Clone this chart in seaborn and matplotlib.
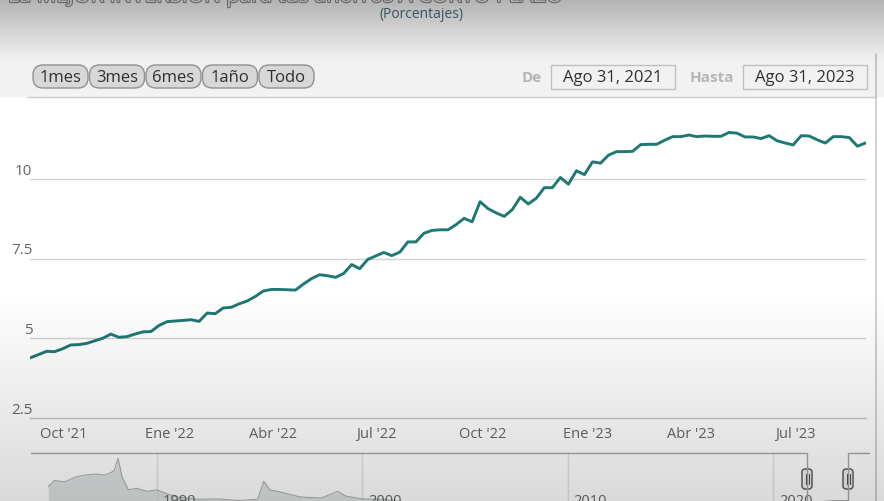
import numpy as np
import pandas as pd
import seaborn as sns
import matplotlib.pyplot as plt
import matplotlib.patheffects as pe
from matplotlib.patches import FancyBboxPatch

#%% Data
# weekly rate (%), one value per Thursday from 2 Sep 2021 to 31 Aug 2023
start_date = "2021-09-02"
rates = [4.39, 4.49, 4.59, 4.58, 4.67, 4.79, 4.80, 4.84, 4.92, 5.00,
         5.13, 5.03, 5.05, 5.13, 5.20, 5.21, 5.40, 5.52, 5.54, 5.56,
         5.58, 5.53, 5.79, 5.77, 5.95, 5.97, 6.08, 6.17, 6.31, 6.48,
         6.53, 6.53, 6.52, 6.51, 6.70, 6.87, 6.99, 6.96, 6.91, 7.03,
         7.31, 7.18, 7.47, 7.58, 7.69, 7.59, 7.70, 8.02, 8.02, 8.29,
         8.38, 8.40, 8.40, 8.56, 8.76, 8.65, 9.28, 9.06, 8.93, 8.82,
         9.03, 9.42, 9.21, 9.39, 9.72, 9.72, 10.04, 9.83, 10.25, 10.13,
         10.53, 10.49, 10.74, 10.85, 10.85, 10.86, 11.07, 11.08, 11.08, 11.21,
         11.32, 11.32, 11.37, 11.32, 11.34, 11.33, 11.33, 11.45, 11.43, 11.31,
         11.31, 11.26, 11.35, 11.19, 11.12, 11.06, 11.35, 11.34, 11.22, 11.12,
         11.32, 11.32, 11.29, 11.02, 11.12]

y_ticks = [2.5, 5, 7.5, 10]
y_labels = ["2.5", "5", "7.5", "10"]
x_ticks = ["2021-10-01", "2022-01-01", "2022-04-01", "2022-07-01",
           "2022-10-01", "2023-01-01", "2023-04-01", "2023-07-01"]
x_labels = ["Oct '21", "Ene '22", "Abr '22", "Jul '22",
            "Oct '22", "Ene '23", "Abr '23", "Jul '23"]

# long history shown in the navigator (year, rate %)
nav_year = [1984.7, 1985.0, 1985.5, 1986.0, 1986.5, 1987.0, 1987.5, 1987.9, 1988.1,
            1988.3, 1988.6, 1989.0, 1989.5, 1990.0, 1990.5, 1991.0, 1992.0, 1993.0,
            1994.0, 1994.9, 1995.2, 1995.5, 1996.0, 1996.5, 1997.0, 1998.0, 1998.8,
            1999.2, 2000.0, 2001.0, 2002.0, 2004.0, 2006.0, 2008.0, 2009.5, 2012.0,
            2015.0, 2017.0, 2019.0, 2020.5, 2021.0, 2022.0, 2023.0, 2023.67]
nav_rate = [55, 75, 70, 85, 92, 95, 92, 105, 145,
            85, 45, 50, 40, 45, 32, 22, 15, 16,
            11, 15, 72, 45, 38, 30, 22, 19, 40,
            25, 16, 15, 7, 6, 7, 8, 4.5, 4.2,
            3, 7, 8, 4.5, 4.2, 6, 11, 11]
nav_years_lab = [1990, 2000, 2010, 2020]

buttons = ["1mes", "3mes", "6mes", "1año", "Todo"]
title = "La MEJOR INVERSIÓN para tus ahorros A CORTO PLAZO"
subtitle = "(Porcentajes)"
date_from = "Ago 31, 2021"
date_to = "Ago 31, 2023"

df = pd.DataFrame({"fecha": pd.date_range(start_date, periods=len(rates), freq="7D"),
                   "tasa": rates})

#%% Style
sns.set_style("white")
plt.rcParams["font.family"] = ["Open Sans", "DejaVu Sans"]

W, H = 884, 502
fig = plt.figure(figsize=(W / 100, H / 100), dpi=100)
fig.patch.set_facecolor("white")

#%% Main chart
ax = fig.add_axes([30 / W, 1 - 419 / H, 836 / W, 319 / H], zorder=1)
ax.patch.set_alpha(0)
sns.lineplot(data=df, x="fecha", y="tasa", ax=ax, color="#1f7873", linewidth=2.1)
ax.set_xlim(pd.Timestamp("2021-09-01 12:00"), pd.Timestamp("2023-08-31 12:00"))
ax.set_ylim(2.5, 12.5)
ax.set_xlabel("")
ax.set_ylabel("")
for s in ["top", "right", "left"]:
    ax.spines[s].set_visible(False)
ax.spines["bottom"].set_color("#c4c4c4")
ax.spines["bottom"].set_linewidth(1)
ax.set_yticks(y_ticks)
ax.set_yticklabels([])
ax.tick_params(axis="y", length=0)
for v in y_ticks[1:]:
    ax.axhline(v, color="#d2d2d2", lw=1, zorder=0)
for v, lab in zip(y_ticks, y_labels):
    ax.annotate(lab, xy=(0, v), xycoords=("axes fraction", "data"),
                xytext=(2.5, 8.5), textcoords="offset pixels",
                ha="right", va="center", fontsize=11, color="#666666")
ax.set_xticks(pd.to_datetime(x_ticks))
ax.set_xticklabels(x_labels, fontsize=10.5, color="#666666")
ax.tick_params(axis="x", length=6, width=1, color="#cccccc", pad=0)

#%% Navigator
nav_left, nav_right = 1983.86, 2024.68
ax_nav = fig.add_axes([31 / W, 1 - 505 / H, 838 / W, 52 / H], zorder=2)
ax_nav.patch.set_alpha(0)
ax_nav.set_xlim(nav_left, nav_right)
ax_nav.set_ylim(0, 165)
ax_nav.axis("off")
for yr in nav_years_lab:
    ax_nav.axvline(yr, color="#e4e4e4", lw=1, zorder=0)
    ax_nav.annotate(str(yr), xy=(yr, 1), xycoords=("data", "axes fraction"),
                    xytext=(6, -41), textcoords="offset pixels",
                    ha="left", va="top", fontsize=10.5, color="#666666")
ax_nav.fill_between(nav_year, nav_rate, color="#d3d9d8", alpha=0.75, lw=0)
ax_nav.plot(nav_year, nav_rate, color="#a3adac", lw=0.7)

#%% Interface elements in pixel coordinates
ui = fig.add_axes([0, 0, 1, 1], zorder=3)
ui.set_xlim(0, W)
ui.set_ylim(H, 0)
ui.axis("off")
ui.patch.set_alpha(0)

ui.text(8, 3, title, fontsize=15.5, color="#f8f8f8", va="baseline", ha="left",
        path_effects=[pe.withStroke(linewidth=1.5, foreground="#8a8a8a")])
ui.text(421, 14.5, subtitle, fontsize=10, color="#4e6e80", ha="center", va="center")

for i, lab in enumerate(buttons):
    x0 = 33 + i * 56.5
    ui.add_patch(FancyBboxPatch((x0, 66), 55, 23,
                                boxstyle="round,pad=0,rounding_size=10",
                                fc="#e4e4e4", ec="#9a9a9a", lw=1))
    ui.text(x0 + 27.5, 77.5, lab, ha="center", va="center",
            fontsize=12, color="#333333")

ui.text(532, 77.5, "De", ha="center", va="center", fontsize=11,
        color="#c0c0c0", fontweight="bold")
ui.text(712, 77.5, "Hasta", ha="center", va="center", fontsize=11,
        color="#c0c0c0", fontweight="bold")
for x0, lab in [(551, date_from), (743, date_to)]:
    ui.add_patch(plt.Rectangle((x0, 65.5), 124, 24, fc="white", ec="#cccccc", lw=1))
    ui.text(x0 + 62, 77.5, lab, ha="center", va="center",
            fontsize=12, color="#333333")

# panel borders
ui.plot([27, 876], [98, 98], color="#cfcfcf", lw=1)
ui.plot([876, 876], [55, H], color="#c8c8c8", lw=1.2)

# navigator outline and handles
ui.plot([31, 807, 807, 848, 848, 869], [453.5, 453.5, 505, 505, 453.5, 453.5],
        color="#a8a8a8", lw=1)
for hx in [807, 848]:
    ui.add_patch(FancyBboxPatch((hx - 5, 470), 10, 20,
                                boxstyle="round,pad=0,rounding_size=3",
                                fc="#f2f2f2", ec="#555555", lw=1))
    ui.plot([hx - 1.5, hx - 1.5], [475, 485], color="#555555", lw=0.8)
    ui.plot([hx + 1.5, hx + 1.5], [475, 485], color="#555555", lw=0.8)

# video overlay shading (dark at top and bottom)
rows = np.arange(H)
alpha = np.interp(rows, [0, 60, 97, 98.5, 290, H], [0.30, 0.06, 0.05, 0.0, 0.0, 0.15])
shade = np.zeros((H, 1, 4))
shade[:, 0, 3] = alpha
ui.imshow(shade, extent=(0, W, H, 0), aspect="auto", zorder=20,
          interpolation="bilinear")
ui.set_xlim(0, W)
ui.set_ylim(H, 0)

fig.savefig("out.png", dpi=100)
